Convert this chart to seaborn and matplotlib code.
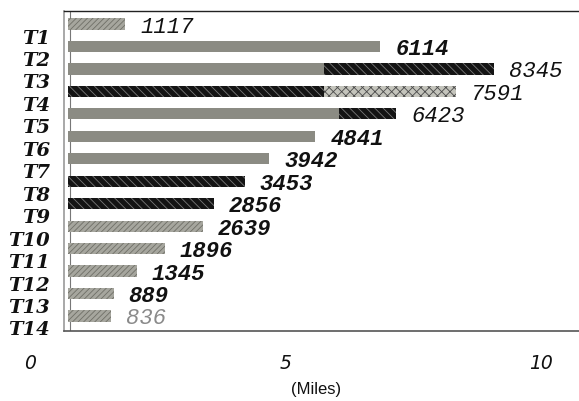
import matplotlib
matplotlib.use("Agg")
import matplotlib.pyplot as plt
import matplotlib.transforms as mtransforms
import seaborn as sns

# data
trips = ["T1", "T2", "T3", "T4", "T5", "T6", "T7",
         "T8", "T9", "T10", "T11", "T12", "T13", "T14"]
counts = [1117, 6114, 8345, 7591, 6423, 4841, 3942,
          3453, 2856, 2639, 1896, 1345, 889, 836]
miles = [c / 1000 for c in counts]
bar_style = ["light", "gray", "dark", "speckle", "dark", "gray", "gray",
             "dark", "dark", "light", "light", "light", "light", "light"]

# first segment of the two-tone bars
front_trips = ["T3", "T4", "T5"]
front_miles = [5.0, 5.0, 5.3]
front_style = ["gray", "dark", "gray"]

label_weight = ["normal", "bold", "normal", "normal", "normal", "bold", "bold",
                "bold", "bold", "bold", "bold", "bold", "bold", "normal"]
label_color = ["#111111"] * 13 + ["#8a8a8a"]

x_ticks = [0, 5, 10]
x_ticklabels = ["0", "5", "10"]

styles = {
    "gray": dict(facecolor="#8b8b83", edgecolor="#8b8b83", hatch=None),
    "light": dict(facecolor="#a6a69e", edgecolor="#6f6f67", hatch="//////"),
    "dark": dict(facecolor="#141414", edgecolor="#7a7a7a", hatch="\\\\\\\\"),
    "speckle": dict(facecolor="#c4c4bc", edgecolor="#4a4a4a", hatch="xxxx"),
}

sns.set_theme(style="white")
plt.rcParams["hatch.linewidth"] = 0.6
mono = ["Liberation Mono", "DejaVu Sans Mono"]

fig = plt.figure(figsize=(5.79, 4.02), dpi=100)
ax = fig.add_axes([64 / 579, 70 / 402, 515 / 579, 320 / 402])

sns.barplot(x=miles, y=trips, order=trips, orient="h", width=0.5,
            color="#8b8b83", ax=ax)
sns.barplot(x=front_miles, y=front_trips, order=trips, orient="h", width=0.5,
            color="#8b8b83", ax=ax)

style_of = dict(zip(trips, bar_style))
front_of = dict(zip(front_trips, front_style))
for k, cont in enumerate(ax.containers):
    lookup = style_of if k == 0 else front_of
    for p in cont.patches:
        idx = int(round(p.get_y() + p.get_height() / 2))
        st = styles[lookup[trips[idx]]]
        p.set_facecolor(st["facecolor"])
        p.set_edgecolor(st["edgecolor"])
        p.set_hatch(st["hatch"])
        p.set_linewidth(0)

for i, (v, c) in enumerate(zip(miles, counts)):
    ax.annotate(str(c), xy=(v, i), xytext=(15, -2), textcoords="offset pixels",
                ha="left", va="center", fontsize=16, family=mono,
                style="italic", weight=label_weight[i], color=label_color[i])

ax.axvline(0.04, color="#777777", lw=0.8, zorder=0)

ax.set_xlim(-0.08, 10.0)
ax.set_ylim(13.67, -0.58)
ax.set_xticks(x_ticks)
ax.set_xticklabels(x_ticklabels)
ax.set_xlabel("")
ax.set_ylabel("")
ax.tick_params(axis="both", length=0)
ax.tick_params(axis="y", pad=10)
ax.tick_params(axis="x", pad=16)

for lbl in ax.get_yticklabels():
    lbl.set_fontfamily(["DejaVu Serif"])
    lbl.set_fontsize(14)
    lbl.set_fontstyle("italic")
    lbl.set_fontweight("bold")
    lbl.set_color("#111111")
    lbl.set_transform(lbl.get_transform() +
                      mtransforms.ScaledTranslation(0, -11.5 / 100, fig.dpi_scale_trans))
for lbl in ax.get_xticklabels():
    lbl.set_fontfamily(["DejaVu Sans"])
    lbl.set_fontsize(13.5)
    lbl.set_fontstyle("italic")
    lbl.set_color("#111111")
    lbl.set_transform(lbl.get_transform() +
                      mtransforms.ScaledTranslation(-38 / 100, 0, fig.dpi_scale_trans))

ax.spines["right"].set_visible(False)
ax.spines["top"].set_color("#222222")
ax.spines["top"].set_linewidth(1.0)
ax.spines["left"].set_color("#9a9a9a")
ax.spines["left"].set_linewidth(1.2)
ax.spines["bottom"].set_color("#555555")
ax.spines["bottom"].set_linewidth(1.2)

fig.text(316 / 579, 1 - 390 / 402, "(Miles)", ha="center", va="center",
         fontsize=12, family=["Liberation Sans", "DejaVu Sans"], color="#111111")

fig.savefig("out.png", dpi=100, facecolor="white")
